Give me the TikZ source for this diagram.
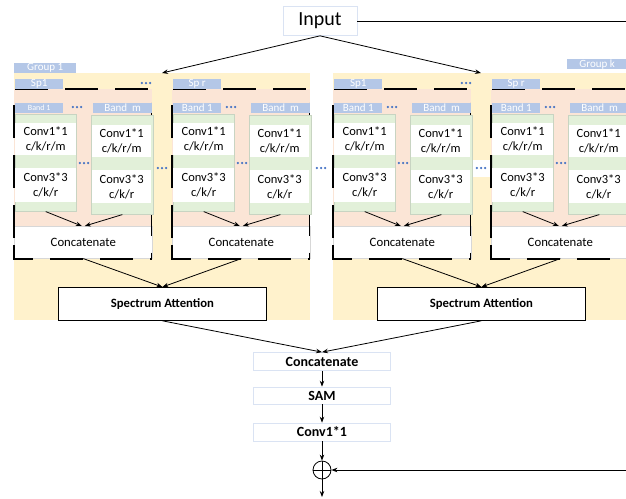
\documentclass[tikz,border=0pt]{standalone}
\usepackage{fontspec}
\setmainfont{Carlito}
\usetikzlibrary{arrows.meta}

\definecolor{panelY}{RGB}{255,242,204}
\definecolor{subP}{RGB}{251,229,214}
\definecolor{colG}{RGB}{226,240,217}
\definecolor{colEdge}{RGB}{200,212,194}
\definecolor{tagB}{RGB}{180,199,231}
\definecolor{dotB}{RGB}{68,114,196}
\definecolor{boxEdge}{RGB}{215,215,215}
\definecolor{inEdge}{RGB}{218,227,243}

\tikzset{
  tag/.style={fill=tagB, text=white, inner sep=0pt, anchor=north west, font=\fontsize{11}{11}\selectfont},
  colbox/.style={fill=colG, draw=colEdge, line width=0.6pt, inner sep=0pt, anchor=north west},
  convbox/.style={fill=white, inner sep=0pt, anchor=north west, align=center, font=\fontsize{12.5}{15}\selectfont},
  catbox/.style={fill=white, draw=boxEdge, line width=0.6pt, inner sep=0pt, anchor=north west, font=\fontsize{12.75}{14}\selectfont},
  spedge/.style={draw=black, line width=1.6pt, dash pattern=on 33pt off 17pt},
  sabox/.style={fill=white, draw=black, line width=0.8pt, inner sep=0pt, anchor=north west, font=\bfseries\fontsize{12.7}{14}\selectfont},
  flowbox/.style={fill=white, draw=inEdge, line width=0.7pt, inner sep=0pt, minimum width=137pt, font=\bfseries\fontsize{14}{16}\selectfont},
  arr/.style={-{Stealth[length=6pt,width=4.5pt]}, line width=0.8pt},
}

% three small blue dots centred at (#1,#2)
\newcommand\tridots[2]{\foreach \k in {-1,0,1}{\fill[dotB] ({#1+4.2*\k},#2) circle (1.25pt);}}

% one spectral sub-group: prefix, left edge, label, font of "Band 1", x of band dots
\newcommand\subgrp[5]{%
  \begin{scope}[xshift=#2pt, name prefix=#1-]
    \fill[subP] (0,89) rectangle (137.5,259);
    \node[catbox, minimum width=138pt, minimum height=32pt] (cat) at (0,226) {Concatenate};
    \draw[spedge, dash phase=29pt] (0,259) -- (0,89) -- (137.5,89) -- (137.5,259);
    \draw[spedge, dash phase=31.5pt] (137.5,259) -- (0,259) -- (0,240);
    \node[colbox, minimum width=61pt, minimum height=97pt] (colA) at (1,114) {};
    \node[colbox, minimum width=62pt, minimum height=99pt] (colB) at (77,115) {};
    \node[convbox, minimum width=61pt, minimum height=32pt] (aA) at (1,123) {Conv1*1\\c/k/r/m};
    \node[convbox, minimum width=61pt, minimum height=34pt] (bA) at (1,168) {Conv3*3\\c/k/r};
    \node[convbox, minimum width=59pt, minimum height=32pt] (aB) at (78,125) {Conv1*1\\c/k/r/m};
    \node[convbox, minimum width=59pt, minimum height=33pt] (bB) at (78,170) {Conv3*3\\c/k/r};
    \node[tag, minimum width=48pt, minimum height=10pt] (sp) at (1,78.5) {#3};
    \node[tag, minimum width=48pt, minimum height=10pt] (b1) at (1,103) {#4Band 1};
    \node[tag, minimum width=59pt, minimum height=10pt] (bm) at (79,103) {Band~~m};
    \tridots{#5}{107}
    \tridots{70}{163}
    \draw[arr] (colA.south) -- ([xshift=-1.5pt]cat.north);
    \draw[arr] (colB.south) -- ([xshift=1.5pt]cat.north);
  \end{scope}}

\begin{document}
\begin{tikzpicture}[x=1pt,y=-1pt]
\useasboundingbox (0,0) rectangle (626,498);

% group panels
\fill[panelY] (14,73) rectangle (310,320);
\fill[panelY] (333,73) rectangle (629,320);
\node[tag, minimum width=62pt, minimum height=10pt] (grp1) at (14,63) {Group 1};
\node[tag, minimum width=60pt, minimum height=10pt] (grpk) at (567,59) {Group k};

\subgrp{g1a}{14}{Sp1}{\fontsize{8}{8}\selectfont}{63}
\subgrp{g1b}{172}{Sp r}{}{59}
\subgrp{gka}{333}{Sp1}{}{59}
\subgrp{gkb}{491}{Sp r}{}{59}

% ellipses between repeated parts
\tridots{146}{83}
\tridots{466}{83}
\tridots{162}{168}
\tridots{321}{168}
\fill[white] (473,160) rectangle (490,177);
\tridots{481}{168}

% spectrum attention per group
\node[sabox, minimum width=208pt, minimum height=33pt] (sa1) at (58,287) {Spectrum Attention};
\node[sabox, minimum width=208pt, minimum height=33pt] (sak) at (377,287) {Spectrum Attention};
\draw[arr] (g1a-cat.south) -- (sa1.north);
\draw[arr] (g1b-cat.south) -- (sa1.north);
\draw[arr] (gka-cat.south) -- (sak.north);
\draw[arr] (gkb-cat.south) -- (sak.north);

% input and skip connection
\node[draw=inEdge, line width=0.7pt, fill=white, minimum width=74pt, minimum height=29pt, inner sep=0pt, font=\fontsize{20}{22}\selectfont] (input) at (320,21) {Input};
\coordinate (g1top) at (162,73);
\coordinate (gktop) at (481,73);
\draw[arr] (input.south) -- (g1top);
\draw[arr] (input.south) -- (gktop);
\coordinate (skipA) at (626,21);
\draw[line width=1pt] (input.east) -- (skipA);

% fusion tail
\node[flowbox, minimum height=18pt] (cc) at (322,361.5) {Concatenate};
\node[flowbox, minimum height=17pt] (sam) at (322,395.5) {SAM};
\node[flowbox, minimum height=18pt] (c11) at (322,432) {Conv1*1};
\node[circle, draw, line width=0.8pt, minimum size=18pt, inner sep=0pt] (add) at (322,470) {};
\draw[line width=0.8pt] (add.north) -- (add.south) (add.west) -- (add.east);
\coordinate (skipB) at (626,470);
\coordinate (out) at (322,497);
\draw[arr] (sa1.south) -- (cc.north);
\draw[arr] (sak.south) -- (cc.north);
\draw[arr] (cc) -- (sam);
\draw[arr] (sam) -- (c11);
\draw[arr] (c11) -- (add);
\draw[arr] (skipB) -- (add.east);
\draw[arr] (add.south) -- (out);
\end{tikzpicture}
\end{document}
